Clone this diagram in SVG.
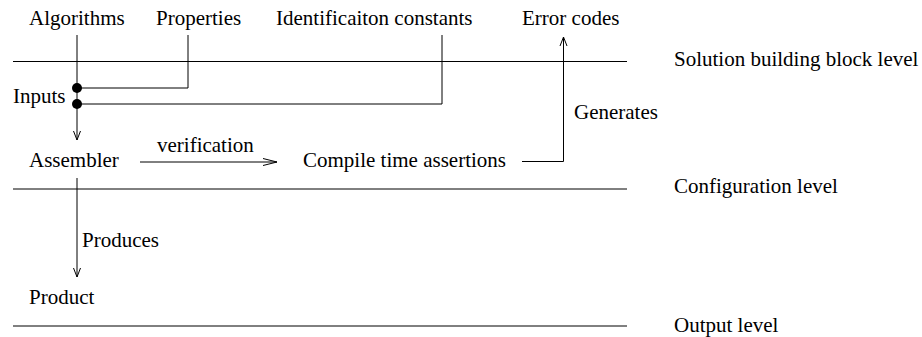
<svg xmlns="http://www.w3.org/2000/svg" width="922" height="337" viewBox="0 0 922 337">
<defs>
<style>
.l{stroke:#000;stroke-width:1;fill:none}
.dot{fill:#000}
</style>
<marker id="arr" markerWidth="16" markerHeight="10" refX="15" refY="5" orient="auto" markerUnits="userSpaceOnUse">
<path d="M1,1.5 L15,5 L1,8.5" fill="none" stroke="#000" stroke-width="1"/>
</marker>
<marker id="arrs" markerWidth="12" markerHeight="10" refX="10" refY="5" orient="auto" markerUnits="userSpaceOnUse">
<path d="M1,1.5 L10,5 L1,8.5" fill="none" stroke="#000" stroke-width="1"/>
</marker>
</defs>
<g font-family="Liberation Serif, DejaVu Serif, serif" font-size="21" fill="#000">
<g id="levels">
<line class="l" x1="13" y1="61.5" x2="627" y2="61.5"/>
<line class="l" x1="13" y1="189" x2="627" y2="189"/>
<line class="l" x1="13" y1="326" x2="627" y2="326"/>
<text x="674" y="66">Solution building block level</text>
<text x="674" y="193">Configuration level</text>
<text x="674" y="332">Output level</text>
</g>
<g id="algorithms"><text x="29" y="25">Algorithms</text></g>
<g id="properties"><text x="156" y="25">Properties</text></g>
<g id="identification"><text x="276" y="25">Identificaiton constants</text></g>
<g id="errorcodes"><text x="522" y="25">Error codes</text></g>
<g id="inputs"><text x="13" y="103">Inputs</text>
<circle class="dot" cx="77" cy="88" r="5"/>
<circle class="dot" cx="77" cy="104" r="5"/>
</g>
<g id="assembler"><text x="29" y="167">Assembler</text></g>
<g id="assertions"><text x="303" y="167">Compile time assertions</text></g>
<g id="product"><text x="29" y="304">Product</text></g>
<g id="connectors">
<line class="l" x1="77" y1="35" x2="77" y2="140" marker-end="url(#arrs)"/>
<polyline class="l" points="188,35 188,88 77,88"/>
<polyline class="l" points="442,35 442,104 77,104"/>
<polyline class="l" points="522,161.5 563.5,161.5 563.5,37" marker-end="url(#arrs)"/>
<line class="l" x1="140" y1="162" x2="277" y2="162" marker-end="url(#arr)"/>
<line class="l" x1="77" y1="178" x2="77" y2="277" marker-end="url(#arrs)"/>
<text x="574" y="119">Generates</text>
<text x="157" y="152">verification</text>
<text x="82" y="247">Produces</text>
</g>
</g>
</svg>
